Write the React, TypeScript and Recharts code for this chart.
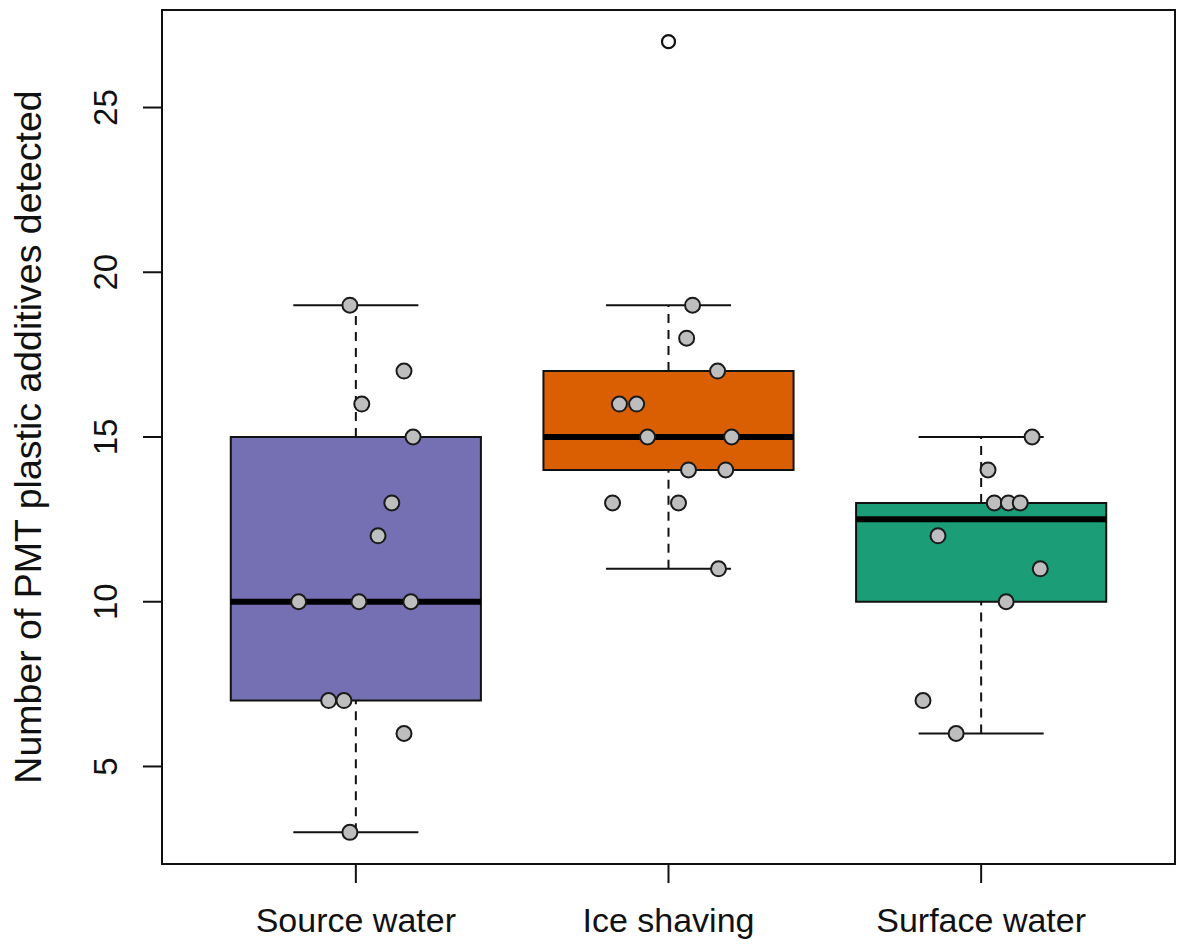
import { ComposedChart, Scatter, XAxis, YAxis, ReferenceArea, ReferenceLine } from 'recharts';

const CATEGORIES = ['Source water', 'Ice shaving', 'Surface water'];
const BOX_COLORS = ['#7570B3', '#D95F02', '#1B9E77'];

// box stats per category
const WHISKER_LOW = [3, 11, 6];
const Q1 = [7, 14, 10];
const MEDIAN = [10, 15, 12.5];
const Q3 = [15, 17, 13];
const WHISKER_HIGH = [19, 19, 15];

// jittered points (x = group position + jitter)
const SOURCE_X = [0.981, 1.154, 1.019, 1.183, 1.115, 1.071, 0.817, 1.010, 1.176, 0.913, 0.962, 1.154, 0.981];
const SOURCE_Y = [19, 17, 16, 15, 13, 12, 10, 10, 10, 7, 7, 6, 3];

const ICE_X = [2.077, 2.058, 2.157, 1.843, 1.898, 1.933, 2.202, 2.064, 2.183, 1.821, 2.032, 2.160];
const ICE_Y = [19, 18, 17, 16, 16, 15, 15, 14, 14, 13, 13, 11];

const SURFACE_X = [3.163, 3.022, 3.042, 3.087, 3.125, 2.862, 3.189, 3.080, 2.814, 2.920];
const SURFACE_Y = [15, 14, 13, 13, 13, 12, 11, 10, 7, 6];

const OUTLIER_X = [2];
const OUTLIER_Y = [27];

const Y_TICKS = [5, 10, 15, 20, 25];
const X_DOMAIN: [number, number] = [0.38, 3.62];
const Y_DOMAIN: [number, number] = [2.04, 27.96];

const toPts = (xs: number[], ys: number[]) => xs.map((x, i) => ({ x, y: ys[i] }));
const jitterPts = [...toPts(SOURCE_X, SOURCE_Y), ...toPts(ICE_X, ICE_Y), ...toPts(SURFACE_X, SURFACE_Y)];
const outlierPts = toPts(OUTLIER_X, OUTLIER_Y);

const FONT = '"Liberation Sans", Arial, Helvetica, sans-serif';

const GrayDot = (p: any) => <circle cx={p.cx} cy={p.cy} r={7.5} fill="#BEBEBE" stroke="#1a1a1a" strokeWidth={2} />;
const OpenDot = (p: any) => <circle cx={p.cx} cy={p.cy} r={6.5} fill="#fff" stroke="#111" strokeWidth={2.2} />;

const YTick = ({ x, y, payload }: any) => (
  <text x={x} y={y} transform={`rotate(-90, ${x}, ${y})`} textAnchor="middle" fontSize={33} fontFamily={FONT} fill="#111">
    {payload.value}
  </text>
);

const XTick = ({ x, y, payload }: any) => (
  <text x={x} y={y} textAnchor="middle" fontSize={34} fontFamily={FONT} fill="#111">
    {CATEGORIES[Math.round(payload.value) - 1]}
  </text>
);

const YTitle = (props: any) => {
  const vb = props.viewBox || { x: 0, y: 10, height: 854 };
  const cx = 41;
  const cy = vb.y + vb.height / 2;
  return (
    <text x={cx} y={cy} transform={`rotate(-90, ${cx}, ${cy})`} textAnchor="middle" fontSize={37.5} fontFamily={FONT} fill="#111">
      Number of PMT plastic additives detected
    </text>
  );
};

export default function App() {
  return (
    <div style={{ position: 'absolute', left: 0, top: 0, width: 1178, height: 947, background: '#fff' }}>
      <ComposedChart width={1178} height={947} margin={{ top: 10, right: 3, left: 0, bottom: 0 }}>
        <XAxis
          type="number"
          dataKey="x"
          domain={X_DOMAIN}
          ticks={[1, 2, 3]}
          allowDataOverflow
          height={83}
          axisLine={false}
          tickSize={19}
          tickMargin={49}
          tickLine={{ stroke: '#111', strokeWidth: 2 }}
          tick={<XTick />}
        />
        <YAxis
          type="number"
          dataKey="y"
          domain={Y_DOMAIN}
          ticks={Y_TICKS}
          allowDataOverflow
          width={162}
          axisLine={false}
          tickSize={19}
          tickMargin={26}
          tickLine={{ stroke: '#111', strokeWidth: 2 }}
          tick={<YTick />}
          label={{ content: <YTitle /> }}
        />

        {CATEGORIES.map((c, i) => (
          <ReferenceLine
            key={`wl-${c}`}
            segment={[{ x: i + 1, y: WHISKER_LOW[i] }, { x: i + 1, y: Q1[i] }]}
            stroke="#111"
            strokeWidth={2}
            strokeDasharray="9 7"
          />
        ))}
        {CATEGORIES.map((c, i) => (
          <ReferenceLine
            key={`wh-${c}`}
            segment={[{ x: i + 1, y: Q3[i] }, { x: i + 1, y: WHISKER_HIGH[i] }]}
            stroke="#111"
            strokeWidth={2}
            strokeDasharray="9 7"
          />
        ))}
        {CATEGORIES.map((c, i) => (
          <ReferenceLine
            key={`cl-${c}`}
            segment={[{ x: i + 1 - 0.2, y: WHISKER_LOW[i] }, { x: i + 1 + 0.2, y: WHISKER_LOW[i] }]}
            stroke="#111"
            strokeWidth={2}
          />
        ))}
        {CATEGORIES.map((c, i) => (
          <ReferenceLine
            key={`ch-${c}`}
            segment={[{ x: i + 1 - 0.2, y: WHISKER_HIGH[i] }, { x: i + 1 + 0.2, y: WHISKER_HIGH[i] }]}
            stroke="#111"
            strokeWidth={2}
          />
        ))}
        {CATEGORIES.map((c, i) => (
          <ReferenceArea
            key={`box-${c}`}
            x1={i + 1 - 0.4}
            x2={i + 1 + 0.4}
            y1={Q1[i]}
            y2={Q3[i]}
            fill={BOX_COLORS[i]}
            fillOpacity={1}
            stroke="#111"
            strokeWidth={2}
          />
        ))}
        {CATEGORIES.map((c, i) => (
          <ReferenceLine
            key={`med-${c}`}
            segment={[{ x: i + 1 - 0.4, y: MEDIAN[i] }, { x: i + 1 + 0.4, y: MEDIAN[i] }]}
            stroke="#000"
            strokeWidth={6}
          />
        ))}
        <ReferenceArea
          x1={X_DOMAIN[0]}
          x2={X_DOMAIN[1]}
          y1={Y_DOMAIN[0]}
          y2={Y_DOMAIN[1]}
          fill="none"
          fillOpacity={0}
          stroke="#111"
          strokeWidth={2}
        />

        <Scatter data={outlierPts} shape={<OpenDot />} isAnimationActive={false} />
        <Scatter data={jitterPts} shape={<GrayDot />} isAnimationActive={false} />
      </ComposedChart>
    </div>
  );
}
